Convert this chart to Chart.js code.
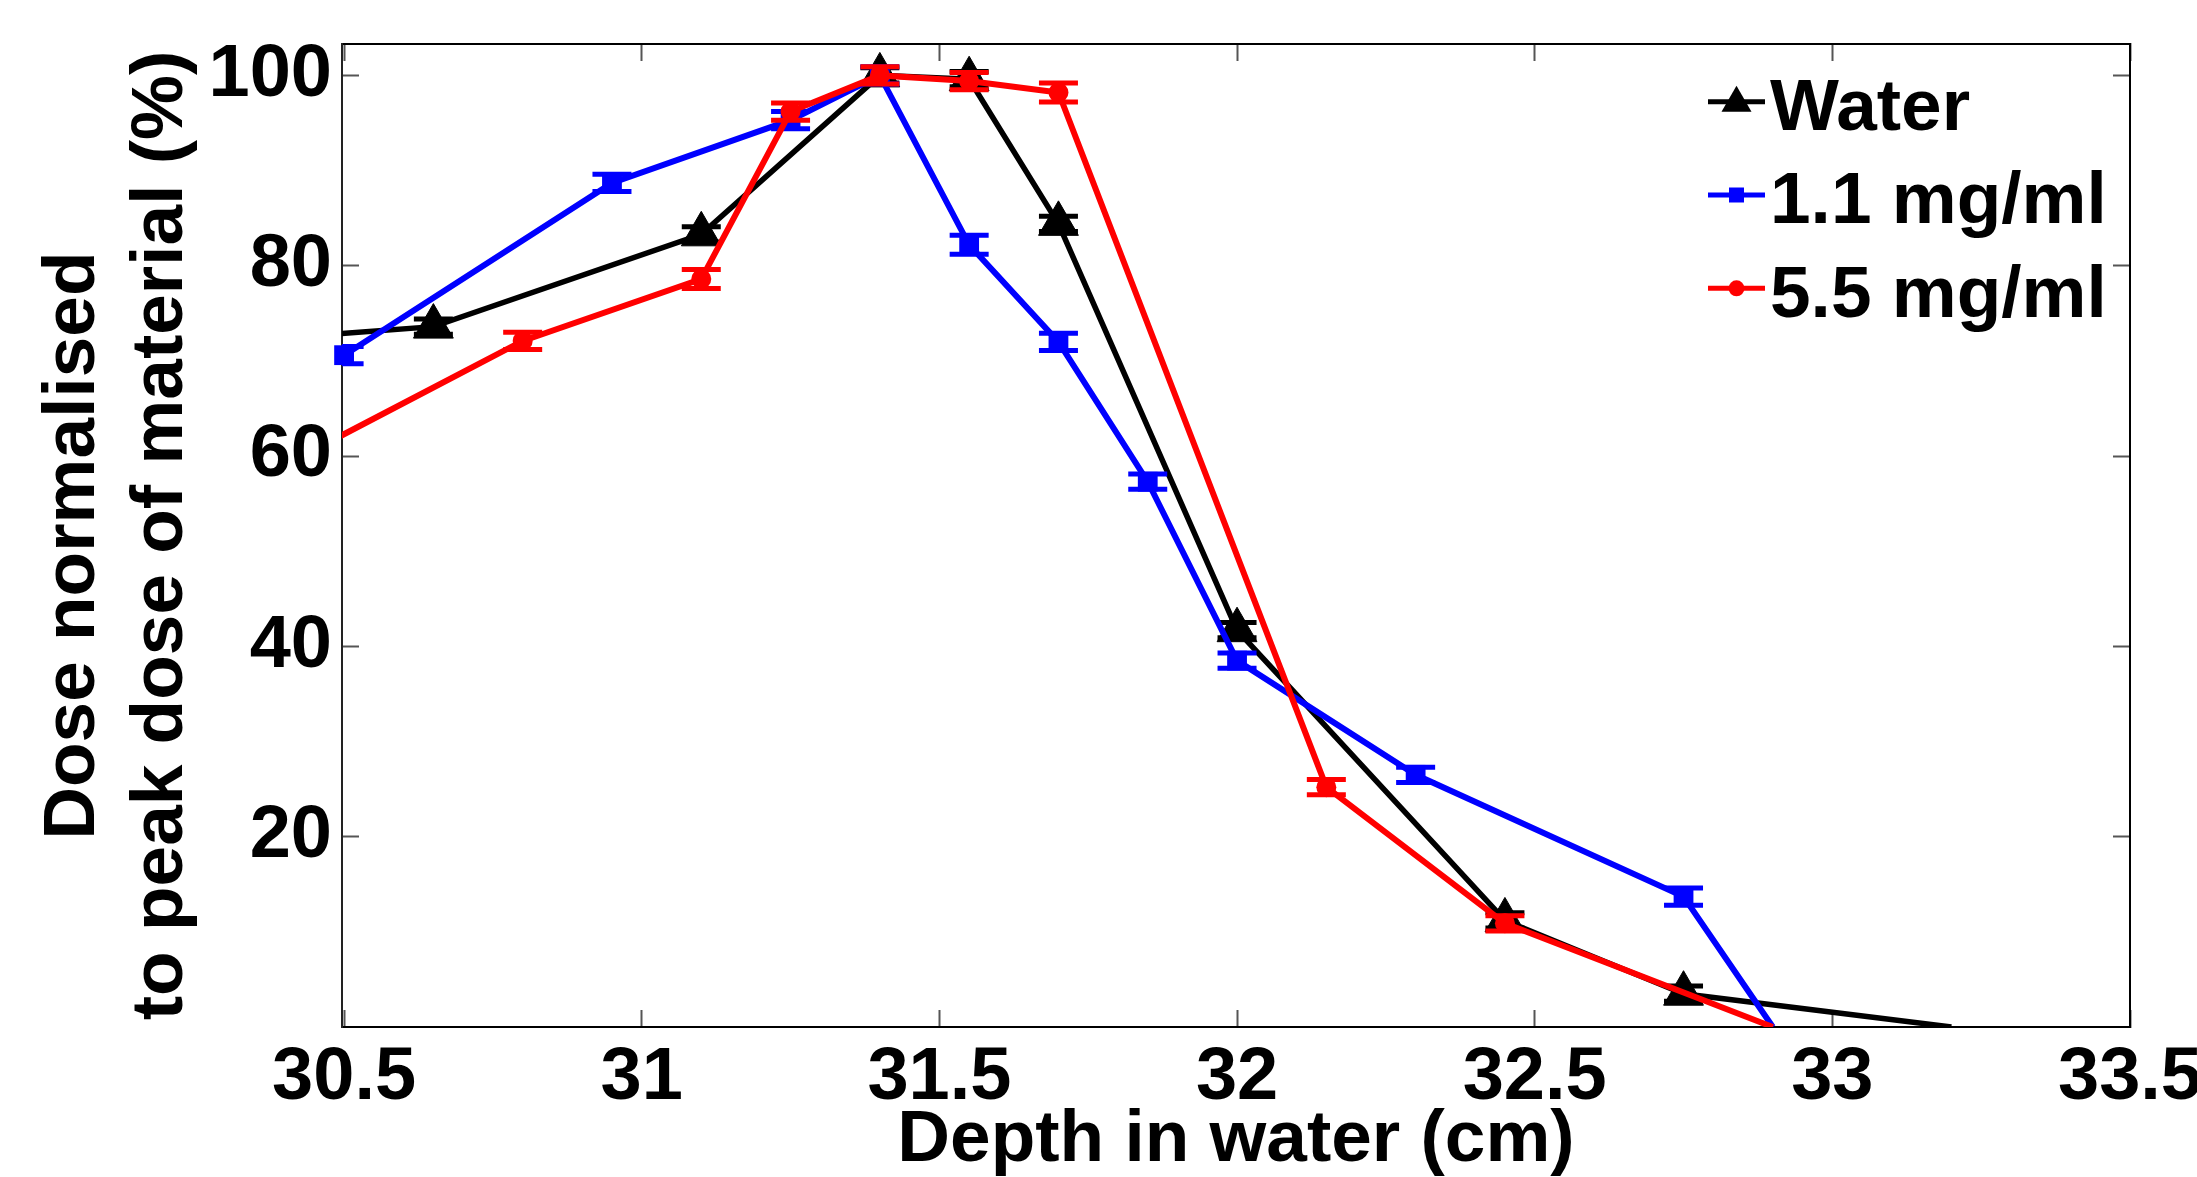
<!DOCTYPE html>
<html>
<head>
<meta charset="utf-8">
<title>Dose vs depth in water</title>
<script src="https://cdn.jsdelivr.net/npm/chart.js@4.4.1/dist/chart.umd.min.js"></script>
<style>
    html, body { margin: 0; padding: 0; background: #fff; }
    canvas { display: block; }
</style>
</head>
<body>
<canvas id="doseChart" width="2197" height="1177"></canvas>
<script>
// Depth in water (cm) and dose (% of peak)
const waterDepth = [30.35, 30.65, 31.1, 31.4, 31.55, 31.7, 32.0, 32.45, 32.75, 33.2];
const waterDose  = [72.2, 73.6, 83.3, 100.0, 99.6, 84.4, 41.7, 11.2, 3.5, 0];
const waterErr   = [0, 0.8, 0.8, 0.8, 0.8, 0.8, 0.8, 0.8, 0.8, 0];

const lowDepth = [30.5, 30.95, 31.25, 31.4, 31.55, 31.7, 31.85, 32.0, 32.3, 32.75, 32.9];
const lowDose  = [70.6, 88.7, 95.3, 100.0, 82.2, 72.0, 57.3, 38.5, 26.5, 13.7, 0];
const lowErr   = [0.9, 0.9, 0.9, 0.9, 1.0, 0.9, 0.8, 0.8, 0.8, 0.9, 0];

const highDepth = [30.35, 30.8, 31.1, 31.25, 31.4, 31.55, 31.7, 32.15, 32.45, 32.9];
const highDose  = [57.4, 72.1, 78.6, 96.2, 100.0, 99.4, 98.2, 25.2, 10.9, 0];
const highErr   = [0, 0.9, 1.0, 0.9, 0.9, 0.9, 1.0, 0.8, 0.8, 0];

const seriesLabels = ['Water', '1.1 mg/ml', '5.5 mg/ml'];
const xTicks = [30.5, 31, 31.5, 32, 32.5, 33, 33.5];
const yTicks = [20, 40, 60, 80, 100];
const xRange = [30.4965, 33.5];
const yRange = [0, 103.3];

const FONT = "'Liberation Sans', Arial, Helvetica, sans-serif";

function toPoints(xs, ys) {
    return xs.map((x, i) => ({ x: x, y: ys[i] }));
}

// markers whose point sits on/outside the axis limits are not drawn (like MATLAB)
function markerSize(r) {
    return function(c) {
        if (!c.raw) return 0;
        return (c.raw.y > yRange[0] && c.raw.x >= xRange[0]) ? r : 0;
    };
}

// Error bars with caps, drawn right after each dataset
const errorBarPlugin = {
    id: 'errorBars',
    afterDatasetDraw(chart, args) {
        const ds = chart.data.datasets[args.index];
        if (!ds.errors) return;
        const yScale = chart.scales.y;
        const { ctx, chartArea: a } = chart;
        ctx.save();
        ctx.beginPath();
        ctx.rect(a.left, a.top, a.right - a.left, a.bottom - a.top);
        ctx.clip();
        ctx.strokeStyle = ds.borderColor;
        ctx.lineWidth = 5;
        args.meta.data.forEach((pt, i) => {
            const e = ds.errors[i];
            if (!e) return;
            const v = ds.data[i].y;
            const yTop = yScale.getPixelForValue(v + e);
            const yBot = yScale.getPixelForValue(v - e);
            ctx.beginPath();
            ctx.moveTo(pt.x, yTop); ctx.lineTo(pt.x, yBot);
            ctx.moveTo(pt.x - 19.5, yTop); ctx.lineTo(pt.x + 19.5, yTop);
            ctx.moveTo(pt.x - 19.5, yBot); ctx.lineTo(pt.x + 19.5, yBot);
            ctx.stroke();
        });
        ctx.restore();
    }
};

// Legend in the top right corner of the axes: line sample + marker + label
const legendPlugin = {
    id: 'cornerLegend',
    afterDraw(chart) {
        const { ctx, chartArea: a } = chart;
        const x0 = a.right - 422;
        chart.data.datasets.forEach((ds, i) => {
            const y = a.top + 57.7 + i * 93.3;
            ctx.save();
            ctx.strokeStyle = ds.borderColor;
            ctx.fillStyle = ds.borderColor;
            ctx.lineWidth = 5;
            ctx.beginPath();
            ctx.moveTo(x0, y);
            ctx.lineTo(x0 + 57, y);
            ctx.stroke();
            const mx = x0 + 28.5;
            ctx.beginPath();
            if (ds.pointStyle === 'triangle') {
                ctx.moveTo(mx, y - 16);
                ctx.lineTo(mx + 15, y + 10);
                ctx.lineTo(mx - 15, y + 10);
                ctx.closePath();
            } else if (ds.pointStyle === 'rect') {
                ctx.rect(mx - 7.5, y - 7.5, 15, 15);
            } else {
                ctx.arc(mx, y, 8, 0, Math.PI * 2);
            }
            ctx.fill();
            ctx.fillStyle = '#000';
            ctx.font = 'bold 73px ' + FONT;
            ctx.textBaseline = 'alphabetic';
            ctx.textAlign = 'left';
            ctx.fillText(ds.label, a.right - 360, y + 28.3);
            ctx.restore();
        });
    }
};

function tickMarks() {
    return {
        display: true,
        drawOnChartArea: false,
        drawTicks: true,
        tickLength: -17,
        tickColor: '#555',
        tickWidth: 2
    };
}

function setTicks(list) {
    return function(scale) {
        scale.ticks = list.map(v => ({ value: v }));
    };
}

function fixSize(key, size) {
    return function(scale) {
        scale[key] = size;
        scale.paddingLeft = 0;
        scale.paddingRight = 0;
        scale.paddingTop = 0;
        scale.paddingBottom = 0;
    };
}

const ctx = document.getElementById('doseChart').getContext('2d');
const doseChart = new Chart(ctx, {
    type: 'line',
    data: {
        datasets: [{
            label: seriesLabels[0],
            data: toPoints(waterDepth, waterDose),
            errors: waterErr,
            borderColor: '#000000',
            backgroundColor: '#000000',
            borderWidth: 5.5,
            pointStyle: 'triangle',
            pointRadius: markerSize(23),
            pointBorderWidth: 1,
            order: 2
        }, {
            label: seriesLabels[1],
            data: toPoints(lowDepth, lowDose),
            errors: lowErr,
            borderColor: '#0000ff',
            backgroundColor: '#0000ff',
            borderWidth: 6,
            pointStyle: 'rect',
            pointRadius: markerSize(14),
            pointBorderWidth: 0,
            clip: { left: 12, top: 0, right: 0, bottom: 0 },
            order: 1
        }, {
            label: seriesLabels[2],
            data: toPoints(highDepth, highDose),
            errors: highErr,
            borderColor: '#ff0000',
            backgroundColor: '#ff0000',
            borderWidth: 6,
            pointStyle: 'circle',
            pointRadius: markerSize(10),
            pointBorderWidth: 0,
            order: 0
        }]
    },
    options: {
        responsive: false,
        animation: false,
        devicePixelRatio: 1,
        events: [],
        layout: { padding: 0, autoPadding: false },
        plugins: {
            legend: { display: false },
            tooltip: { enabled: false }
        },
        scales: {
            x: {
                type: 'linear',
                position: 'bottom',
                min: xRange[0],
                max: xRange[1],
                afterBuildTicks: setTicks(xTicks),
                afterFit: fixSize('height', 150),
                grid: tickMarks(),
                border: { display: true, color: '#000', width: 2 },
                ticks: {
                    color: '#000',
                    padding: 24,
                    maxRotation: 0,
                    autoSkip: false,
                    font: { family: FONT, size: 74, weight: 'bold' },
                    callback: v => String(v)
                },
                title: {
                    display: true,
                    text: 'Depth in water (cm)',
                    color: '#000',
                    padding: { top: 0, bottom: 0 },
                    font: { family: FONT, size: 73, weight: 'bold', lineHeight: 1 }
                }
            },
            x2: {
                type: 'linear',
                position: 'top',
                min: xRange[0],
                max: xRange[1],
                afterBuildTicks: setTicks(xTicks),
                afterFit: fixSize('height', 44),
                grid: tickMarks(),
                border: { display: true, color: '#000', width: 2 },
                ticks: { display: false }
            },
            y: {
                type: 'linear',
                position: 'left',
                min: yRange[0],
                max: yRange[1],
                afterBuildTicks: setTicks(yTicks),
                afterFit: fixSize('width', 342),
                grid: tickMarks(),
                border: { display: true, color: '#222', width: 2 },
                ticks: {
                    color: '#000',
                    padding: 27,
                    font: { family: FONT, size: 74, weight: 'bold' },
                    callback: v => String(v)
                },
                title: {
                    display: true,
                    text: ['Dose normalised ', 'to peak dose of material (%)'],
                    color: '#000',
                    padding: { top: 30, bottom: 0 },
                    font: { family: FONT, size: 73, weight: 'bold', lineHeight: 88 / 73 }
                }
            },
            y2: {
                type: 'linear',
                position: 'right',
                min: yRange[0],
                max: yRange[1],
                afterBuildTicks: setTicks(yTicks),
                afterFit: fixSize('width', 67),
                grid: tickMarks(),
                border: { display: true, color: '#000', width: 2 },
                ticks: { display: false }
            }
        }
    },
    plugins: [errorBarPlugin, legendPlugin]
});
</script>
</body>
</html>
